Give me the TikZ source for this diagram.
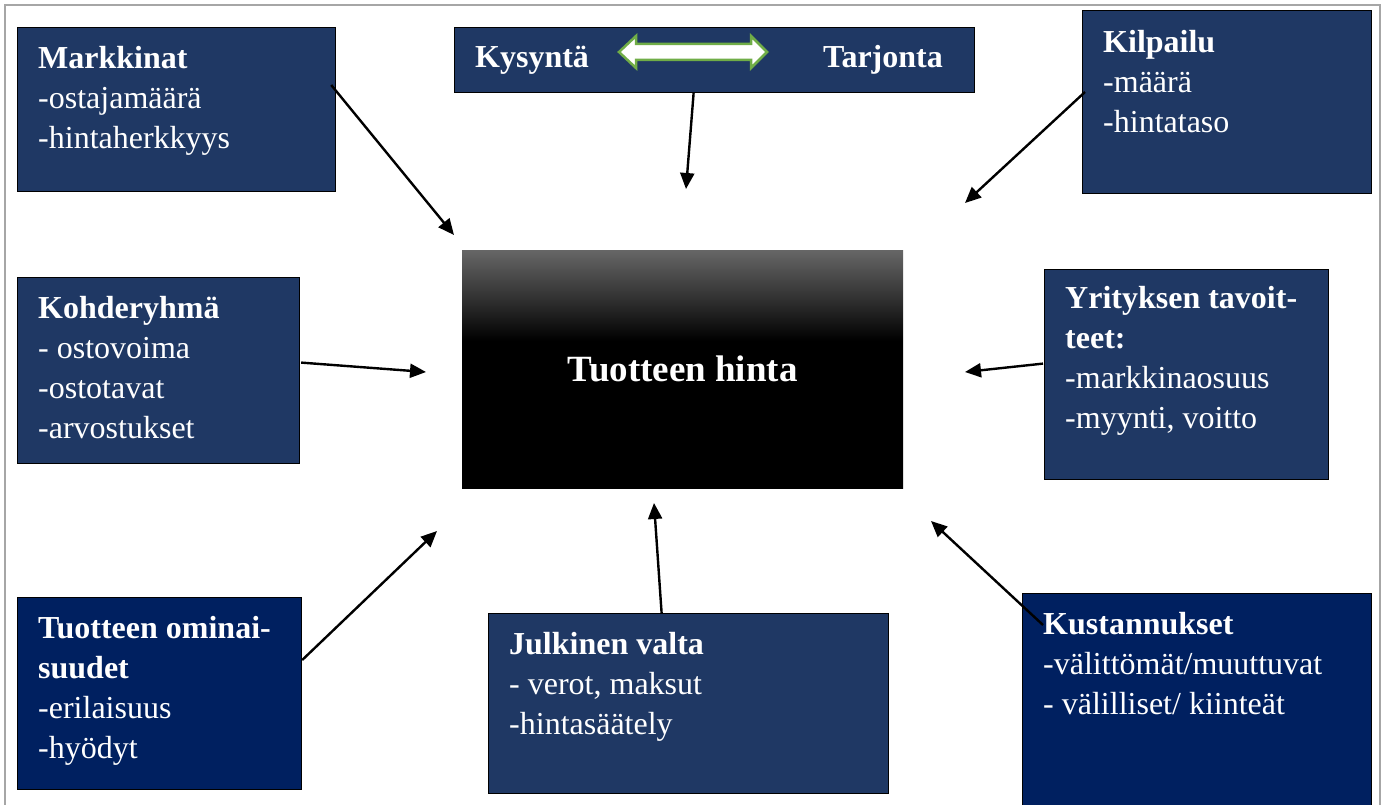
\documentclass[tikz,border=0pt]{standalone}
\usepackage{fontspec}
\setmainfont{Liberation Serif}
\usetikzlibrary{arrows.meta,calc}
\definecolor{slate}{RGB}{31,56,100}
\definecolor{navyblue}{RGB}{0,32,96}
\definecolor{framegray}{RGB}{166,166,166}
\definecolor{arrowgreen}{RGB}{112,173,71}
\definecolor{hintatop}{RGB}{102,102,102}
\definecolor{hintamid}{RGB}{50,50,50}
% dark grey at the top fading to black at mid-height
\pgfdeclareverticalshading{hintashade}{100bp}{color(0bp)=(black); color(56bp)=(black); color(65bp)=(hintamid); color(75bp)=(hintatop); color(100bp)=(hintatop)}
\newcommand\firstline{\rule{0pt}{24pt}}

\begin{document}
\begin{tikzpicture}[x=1pt,y=-1pt,
  box/.style={draw=black, line width=1.2pt, fill=slate, inner sep=0pt, anchor=north west},
  navybox/.style={box, fill=navyblue},
  txt/.style={text=white, font=\fontsize{32}{40}\selectfont, align=left, inner sep=0pt, anchor=north west},
  conn/.style={line width=2.4pt, -{Triangle[length=16pt,width=14pt]}}]
\useasboundingbox (0,0) rectangle (1389,805);

% page frame
\draw[framegray, line width=2pt] (5,810) -- (5,5) -- (1380,5) -- (1380,810);

% factor boxes
\node[box, minimum width=318, minimum height=164] (mark) at (17,27) {};
\node[txt] at ($(mark.north west)+(21,17)$) {\firstline\textbf{Markkinat}\\-ostajamäärä\\-hintaherkkyys};

\node[box, minimum width=520, minimum height=65] (dem) at (454,27) {};
\node[text=white, font=\bfseries\fontsize{32}{40}\selectfont, inner sep=0pt, anchor=base west] (kys) at (475,68) {Kysyntä};
\node[text=white, font=\bfseries\fontsize{32}{40}\selectfont, inner sep=0pt, anchor=base east] (tarj) at (943,68) {Tarjonta};
\draw[arrowgreen, fill=white, line width=2.5pt, line join=miter]
  (619,52) -- (636,36) -- (636,44) -- (751,44) -- (751,36) -- (767,52)
  -- (751,68) -- (751,60) -- (636,60) -- (636,68) -- cycle;

\node[box, minimum width=289, minimum height=183] (kilp) at (1082,10) {};
\node[txt] at ($(kilp.north west)+(21,18)$) {\firstline\textbf{Kilpailu}\\-määrä\\-hintataso};

\node[box, minimum width=282, minimum height=186] (kohde) at (17,277) {};
\node[txt] at ($(kohde.north west)+(21,17)$) {\firstline\textbf{Kohderyhmä}\\- ostovoima\\-ostotavat\\-arvostukset};

\node[box, minimum width=284, minimum height=210] (yrit) at (1044,269) {};
\node[txt] at ($(yrit.north west)+(21,15)$) {\firstline\textbf{Yrityksen tavoit-}\\\textbf{teet:}\\-markkinaosuus\\-myynti, voitto};

\node[navybox, minimum width=284, minimum height=192] (omin) at (17,597) {};
\node[txt] at ($(omin.north west)+(21,17)$) {\firstline\textbf{Tuotteen ominai-}\\\textbf{suudet}\\-erilaisuus\\-hyödyt};

\node[box, minimum width=400, minimum height=180] (julk) at (488,613) {};
\node[txt] at ($(julk.north west)+(21,17)$) {\firstline\textbf{Julkinen valta}\\- verot, maksut\\-hintasäätely};

\node[navybox, minimum width=349, minimum height=220] (kust) at (1022,593) {};
\node[txt] at ($(kust.north west)+(21,17)$) {\firstline\textbf{Kustannukset}\\-välittömät/muuttuvat\\- välilliset/ kiinteät};

% central box
\node[shading=hintashade, inner sep=0pt, anchor=north west, minimum width=441, minimum height=238,
  text=white, font=\bfseries\fontsize{37}{44}\selectfont] (hinta) at (462,250) {Tuotteen hinta};

% arrow tips pointing at the centre
\coordinate (t1) at (454,235);
\coordinate (t2) at (686,189);
\coordinate (t3) at (965,203);
\coordinate (t4) at (426,372);
\coordinate (t5) at (965,372);
\coordinate (t6) at (437,531);
\coordinate (t7) at (654,503);
\coordinate (t8) at (931,521);

\draw[conn] ($(mark.north east)+(-5,58)$) -- (t1);
\draw[conn] ($(dem.south)+(-21,0)$) -- (t2);
\draw[conn] ($(kilp.north west)+(3,82)$) -- (t3);
\draw[conn] ($(kohde.east)+(1,-8)$) -- (t4);
\draw[conn] ($(yrit.west)+(-1,-11)$) -- (t5);
\draw[conn] ($(omin.north east)+(0,63)$) -- (t6);
\draw[conn] ($(julk.north)+(-27,0)$) -- (t7);
\draw[conn] ($(kust.north west)+(21,32)$) -- (t8);
\end{tikzpicture}
\end{document}
